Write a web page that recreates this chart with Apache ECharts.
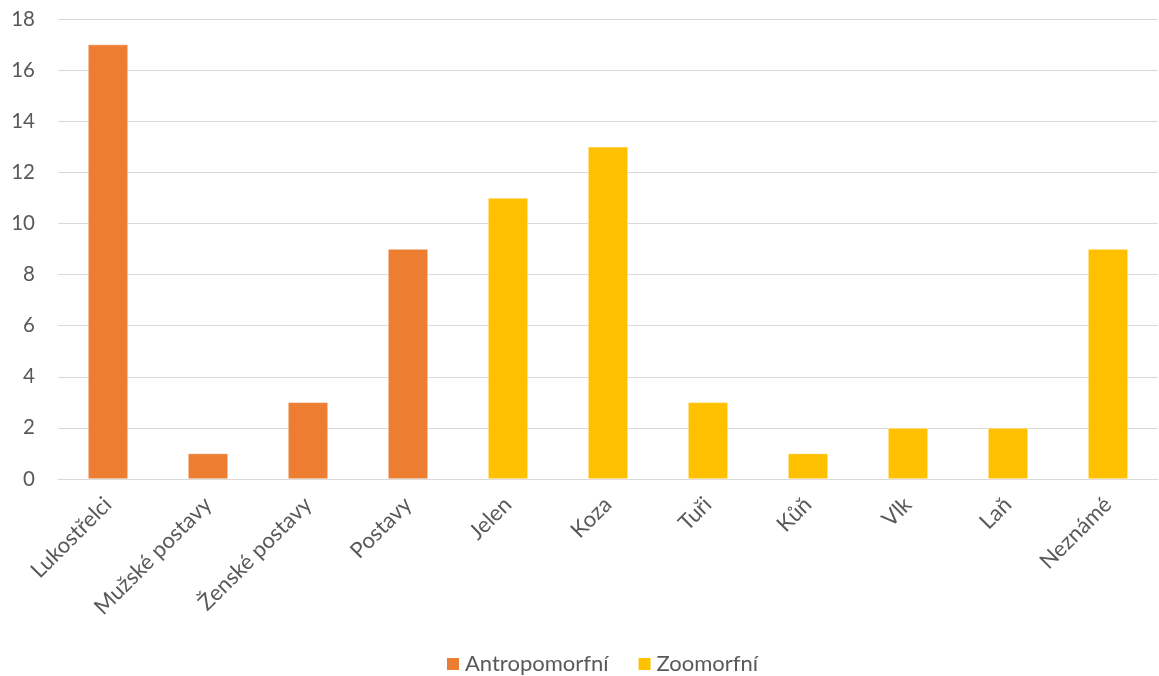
<!DOCTYPE html>
<html>
<head>
<meta charset="utf-8">
<script src="https://cdn.jsdelivr.net/npm/echarts@6/dist/echarts.min.js"></script>
<style>
  html, body { margin: 0; padding: 0; background: #fff; }
  #chart { width: 1159px; height: 676px; }
</style>
</head>
<body>
<div id="chart"></div>
<script>
// Motif categories and their counts
const categories = ['Lukostřelci', 'Mužské postavy', 'Ženské postavy', 'Postavy', 'Jelen', 'Koza', 'Tuři', 'Kůň', 'Vlk', 'Laň', 'Neznámé'];
const antropomorfni = [17, 1, 3, 9, null, null, null, null, null, null, null];
const zoomorfni = [null, null, null, null, 11, 13, 3, 1, 2, 2, 9];
const yTicks = { min: 0, max: 18, interval: 2 };

const FONT = 'Lato, "Noto Sans", sans-serif';
const TEXT = '#595959';

const chart = echarts.init(document.getElementById('chart'), null, { renderer: 'canvas' });
chart.setOption({
  animation: false,
  textStyle: { fontFamily: FONT },
  grid: { left: 58, right: 1, top: 19, bottom: 197, containLabel: false },
  legend: {
    top: 646,
    left: 445,
    padding: 0,
    itemWidth: 14,
    itemHeight: 14,
    itemGap: 28,
    itemTextGap: 5,
    icon: 'rect',
    textStyle: { fontSize: 22, color: TEXT, fontFamily: FONT, lineHeight: 36 },
    data: ['Antropomorfní', 'Zoomorfní']
  },
  xAxis: {
    type: 'category',
    data: categories,
    axisLine: { show: true, lineStyle: { color: '#d9d9d9', width: 1 } },
    axisTick: { show: false },
    axisLabel: {
      rotate: 45,
      interval: 0,
      fontSize: 22,
      color: TEXT,
      fontFamily: FONT,
      margin: 22
    }
  },
  yAxis: {
    type: 'value',
    min: yTicks.min,
    max: yTicks.max,
    interval: yTicks.interval,
    axisLine: { show: false },
    axisTick: { show: false },
    splitLine: { lineStyle: { color: '#d9d9d9', width: 1 } },
    axisLabel: { fontSize: 20.5, color: TEXT, fontFamily: FONT, margin: 23 }
  },
  series: [
    {
      name: 'Antropomorfní',
      type: 'bar',
      stack: 'all',
      data: antropomorfni,
      barWidth: '40%',
      itemStyle: { color: '#ed7d31', borderColor: '#fff', borderWidth: 0.5 }
    },
    {
      name: 'Zoomorfní',
      type: 'bar',
      stack: 'all',
      data: zoomorfni,
      barWidth: '40%',
      itemStyle: { color: '#ffc000', borderColor: '#fff', borderWidth: 0.5 }
    }
  ]
});
</script>
</body>
</html>
